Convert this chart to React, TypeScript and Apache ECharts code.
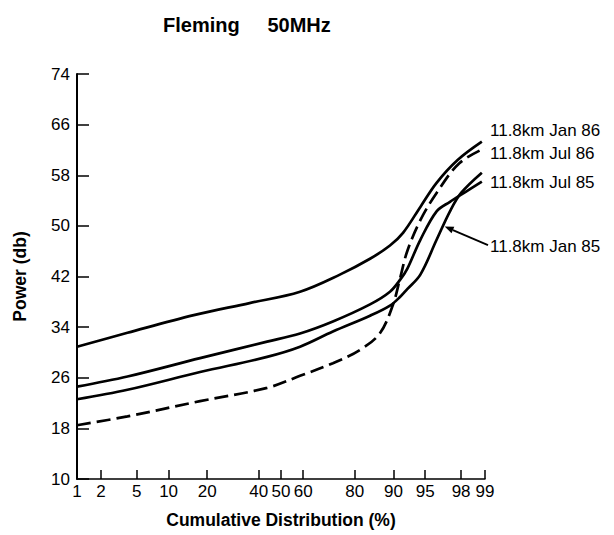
import React, { useEffect, useRef } from "react";
import * as echarts from "echarts";

// Percent ticks of the probability (normal) x axis
const xTickPercents = [1, 2, 5, 10, 20, 40, 50, 60, 80, 90, 95, 98, 99];
const yTickValues = [10, 18, 26, 34, 42, 50, 58, 66, 74];

// Series: [cumulative %, power dB]
const jan86 = [
  [1, 30.9], [4, 33.1], [16, 35.9], [36, 37.8], [58.6, 39.6], [74.9, 42.3],
  [84.5, 44.8], [89.3, 46.9], [91.8, 48.9], [94.4, 53.0], [96.2, 56.8],
  [97.8, 60.4], [98.9, 63.3],
];
const jul86 = [
  [1, 18.5], [4, 19.9], [17.8, 22.3], [43.7, 24.4], [58.6, 26.3], [72.3, 28.3],
  [81.6, 30.4], [87, 33.0], [89.9, 37.5], [91.3, 41.8], [92.5, 46.0],
  [94.4, 50.9], [96.2, 55.2], [97.9, 59.9], [99, 62.3],
];
const jul85 = [
  [1, 24.6], [4, 26.2], [17.8, 29.1], [43.7, 31.7], [58.6, 33.0], [72.3, 34.9],
  [84.5, 37.6], [89.3, 39.6], [91.3, 41.5], [92.5, 43.2], [94.4, 47.8],
  [96.2, 52.3], [97.3, 53.8], [98.2, 55.3], [98.9, 57.0],
];
const jan85 = [
  [1, 22.6], [4, 24.1], [17.8, 26.9], [43.7, 29.3], [58.6, 30.9], [72.3, 33.3],
  [84.5, 35.8], [89.3, 37.4], [91.3, 38.8], [92.5, 40.0], [94.4, 42.3],
  [96.2, 47.8], [97.3, 52.3], [98.0, 55.2], [98.9, 58.4],
];

const seriesNames = ["11.8km Jan 86", "11.8km Jul 86", "11.8km Jul 85", "11.8km Jan 85"];
const labelDb = [65.0, 61.5, 56.9, 46.8];
const arrowTip = [96.9, 49.9]; // where the Jan 85 arrow points

// inverse normal CDF (probability-paper scale)
function probit(p: number): number {
  const a = [-3.969683028665376e1, 2.209460984245205e2, -2.759285104469687e2, 1.38357751867269e2, -3.066479806614716e1, 2.506628277459239];
  const b = [-5.447609879822406e1, 1.615858368580409e2, -1.556989798598866e2, 6.680131188771972e1, -1.328068155288572e1];
  const c = [-7.784894002430293e-3, -3.223964580411365e-1, -2.400758277161838, -2.549732673576371, 4.374664141464968, 2.938163982698783];
  const d = [7.784695709041462e-3, 3.224671290700398e-1, 2.445134137142996, 3.754408661907416];
  const plow = 0.02425;
  const phigh = 1 - plow;
  let q: number, r: number;
  if (p < plow) {
    q = Math.sqrt(-2 * Math.log(p));
    return (((((c[0] * q + c[1]) * q + c[2]) * q + c[3]) * q + c[4]) * q + c[5]) /
      ((((d[0] * q + d[1]) * q + d[2]) * q + d[3]) * q + 1);
  }
  if (p <= phigh) {
    q = p - 0.5;
    r = q * q;
    return ((((((a[0] * r + a[1]) * r + a[2]) * r + a[3]) * r + a[4]) * r + a[5]) * q) /
      (((((b[0] * r + b[1]) * r + b[2]) * r + b[3]) * r + b[4]) * r + 1);
  }
  q = Math.sqrt(-2 * Math.log(1 - p));
  return -(((((c[0] * q + c[1]) * q + c[2]) * q + c[3]) * q + c[4]) * q + c[5]) /
    ((((d[0] * q + d[1]) * q + d[2]) * q + d[3]) * q + 1);
}

const toZ = (pct: number) => probit(pct / 100);
const conv = (arr: number[][]) => arr.map(([p, v]) => [toZ(p), v]);

const FONT = "'Liberation Sans', Arial, Helvetica, sans-serif";

export default function App() {
  const ref = useRef<HTMLDivElement>(null);
  useEffect(() => {
    if (!ref.current) return;
    const chart = echarts.init(ref.current, null, { renderer: "svg" });
    const xTickZ = xTickPercents.map(toZ);
    const lineBase = { color: "#000", width: 2.7 };
    const option: any = {
      animation: false,
      backgroundColor: "#fff",
      title: {
        text: "Fleming     50MHz",
        left: 163,
        top: 15,
        padding: 0,
        textStyle: { fontFamily: FONT, fontSize: 20, fontWeight: "bold", color: "#000" },
      },
      grid: { left: 77, top: 74, width: 408, height: 405, outerBoundsMode: "none" },
      xAxis: {
        type: "value",
        min: toZ(1),
        max: toZ(99),
        splitLine: { show: false },
        axisLine: { onZero: false, lineStyle: { color: "#000", width: 1.5 } },
        axisTick: { inside: true, length: 9, customValues: xTickZ, lineStyle: { color: "#000", width: 1.5 } },
        axisLabel: {
          customValues: xTickZ,
          margin: 4,
          color: "#000",
          fontSize: 17,
          fontFamily: FONT,
          formatter: (v: number) => {
            let best = xTickPercents[0];
            let bd = Infinity;
            xTickPercents.forEach((p) => {
              const dd = Math.abs(toZ(p) - v);
              if (dd < bd) { bd = dd; best = p; }
            });
            return String(best);
          },
        },
        name: "Cumulative Distribution (%)",
        nameLocation: "middle",
        nameGap: 32,
        nameTextStyle: { fontFamily: FONT, fontSize: 17.5, fontWeight: "bold", color: "#000" },
      },
      yAxis: {
        type: "value",
        min: 10,
        max: 74,
        splitLine: { show: false },
        axisLine: { show: true, onZero: false, lineStyle: { color: "#000", width: 2 } },
        axisTick: { show: true, inside: true, length: 12, customValues: yTickValues, lineStyle: { color: "#000", width: 1.5 } },
        axisLabel: { customValues: yTickValues, margin: 7, color: "#000", fontSize: 17, fontFamily: FONT },
        name: "Power (db)",
        nameLocation: "middle",
        nameGap: 48,
        nameTextStyle: { fontFamily: FONT, fontSize: 17.5, fontWeight: "bold", color: "#000" },
      },
      series: [
        { name: seriesNames[0], type: "line", data: conv(jan86), smooth: 0.35, symbol: "none", lineStyle: { ...lineBase } },
        { name: seriesNames[1], type: "line", data: conv(jul86), smooth: 0.35, symbol: "none", lineStyle: { ...lineBase, type: [14, 6] } },
        { name: seriesNames[2], type: "line", data: conv(jul85), smooth: 0.35, symbol: "none", lineStyle: { ...lineBase } },
        { name: seriesNames[3], type: "line", data: conv(jan85), smooth: 0.35, symbol: "none", lineStyle: { ...lineBase } },
      ],
    };
    chart.setOption(option);

    const px = (p: number, db: number) => chart.convertToPixel({ gridIndex: 0 }, [toZ(p), db]) as number[];
    const rightX = px(99, 10)[0] + 5;
    const graphics: any[] = seriesNames.map((name, i) => ({
      type: "text",
      x: rightX,
      y: px(50, labelDb[i])[1],
      style: { text: name, fill: "#000", font: `17px ${FONT}`, textVerticalAlign: "middle", textAlign: "left" },
    }));
    const tip = px(arrowTip[0], arrowTip[1]);
    const start = [rightX - 2, px(50, labelDb[3])[1] - 1];
    const dx = tip[0] - start[0];
    const dy = tip[1] - start[1];
    const len = Math.hypot(dx, dy);
    const ux = dx / len, uy = dy / len;
    const hl = 9, hw = 3.5;
    const base = [tip[0] - ux * hl, tip[1] - uy * hl];
    graphics.push({
      type: "line",
      shape: { x1: start[0], y1: start[1], x2: base[0], y2: base[1] },
      style: { stroke: "#000", lineWidth: 1.8 },
    });
    graphics.push({
      type: "polygon",
      shape: {
        points: [
          [tip[0], tip[1]],
          [base[0] - uy * hw, base[1] + ux * hw],
          [base[0] + uy * hw, base[1] - ux * hw],
        ],
      },
      style: { fill: "#000" },
    });
    chart.setOption({ graphic: graphics });
    return () => chart.dispose();
  }, []);
  return <div ref={ref} style={{ position: "fixed", left: 0, top: 0, width: 614, height: 535 }} />;
}
